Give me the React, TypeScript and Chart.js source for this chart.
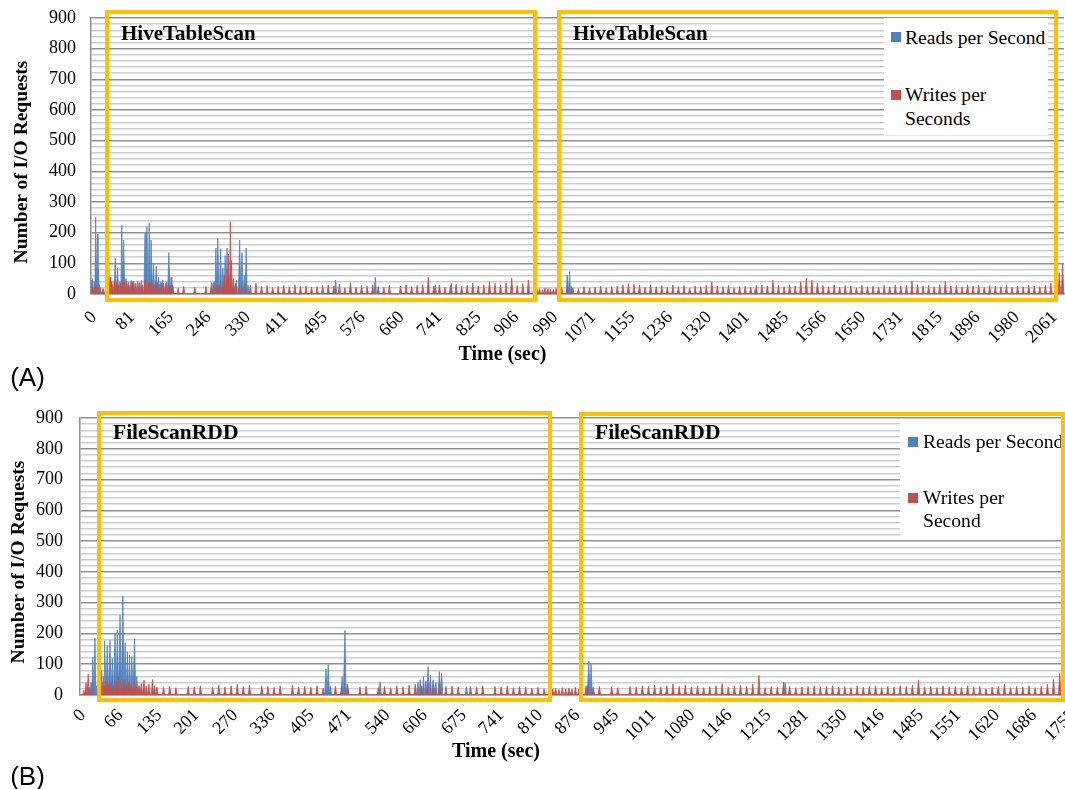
import React, { useEffect, useRef } from 'react';
import { Chart, registerables } from 'chart.js';

Chart.register(...registerables);

const SERIF = '"Liberation Serif", "Times New Roman", Times, serif';
const SANS = '"Liberation Sans", Arial, Helvetica, sans-serif';
const BLUE = '#4F81BD';
const RED = '#C0504D';
const MAJOR = '#8F8F8F';
const MINOR = '#CDCDCD';
const GOLD = '#FFC000';

// ---------- shared axis ----------
const Y_MAX = 900;
const Y_STEP = 20;

// ---------- panel A : HiveTableScan ----------
const X_TICKS_A = [0, 81, 165, 246, 330, 411, 495, 576, 660, 741, 825, 906, 990, 1071, 1155, 1236, 1320, 1401, 1485, 1566, 1650, 1731, 1815, 1896, 1980, 2061];
const X_MAX_A = 2088;

// reads per second peaks [time, value]
const READS_A: [number, number][] = [
  [1, 45], [4, 50], [7, 40], [10, 250], [14, 195], [16, 80], [19, 30],
  [52, 117], [57, 85], [62, 40], [66, 225], [70, 176], [75, 50], [80, 40], [86, 45], [92, 35], [100, 40], [108, 45],
  [116, 198], [120, 219], [125, 232], [129, 176], [134, 100], [140, 90], [145, 55], [150, 40], [154, 46], [160, 35], [167, 135], [172, 55], [175, 30],
  [264, 40], [268, 150], [272, 182], [278, 148], [283, 85], [288, 125], [292, 150], [296, 60], [300, 40], [306, 30], [312, 45], [319, 176], [324, 135], [329, 60], [333, 150], [337, 30],
  [525, 45], [610, 55], [739, 30], [773, 35], [1022, 62], [1027, 73], [1031, 25], [1425, 15],
];

// writes per second: distinct peaks [time, value]
const WRITES_A_PEAKS: [number, number][] = [
  [3, 25], [8, 20], [12, 30], [20, 15], [26, 18], [37, 265], [41, 55], [46, 30], [50, 45], [58, 30], [63, 35], [72, 38], [76, 42],
  [84, 30], [88, 40], [96, 35], [104, 38], [110, 30], [118, 40], [124, 35], [130, 45], [136, 30], [142, 38], [148, 32], [156, 35],
  [160, 28], [168, 30], [172, 25],
  [262, 35], [275, 30], [286, 60], [292, 80], [296, 130], [299, 236], [302, 110], [306, 50], [310, 35],
  [957, 15], [969, 14], [981, 18], [992, 15],
  [2078, 70], [2085, 100],
];
// writes per second: regular small spikes, one every WRITES_A_STEP seconds from WRITES_A_START
const WRITES_A_START = 8;
const WRITES_A_STEP = 11.93;
const WRITES_A_REGULAR = [
  22, 20, 18, 40, 38, 45, 35, 42, 36, 44, 38, 42, 36, 40, 28, 20, 25, 0, 22, 0,
  25, 38, 30, 35, 0, 0, 30, 35, 28, 35, 25, 28, 22, 25, 28, 24, 30, 25, 26, 22,
  24, 28, 30, 26, 32, 20, 37, 22, 28, 25, 30, 24, 22, 28, 0, 26, 30, 24, 28, 30,
  55, 26, 30, 22, 28, 32, 25, 28, 36, 26, 30, 40, 35, 30, 36, 52, 28, 34, 46, 24,
  18, 20, 16, 18, 22, 25, 20, 18, 24, 20, 22, 26, 20, 24, 26, 30, 33, 32, 28, 22,
  30, 24, 28, 22, 30, 24, 28, 20, 26, 24, 28, 40, 26, 24, 28, 20, 24, 26, 22, 28,
  30, 26, 45, 28, 24, 30, 26, 40, 52, 45, 36, 28, 24, 30, 22, 28, 26, 20, 28, 24,
  26, 22, 28, 24, 30, 26, 28, 42, 30, 26, 28, 24, 30, 42, 26, 28, 24, 30, 26, 28,
  22, 28, 26, 24, 28, 22, 26, 24, 28, 26, 24, 28, 35, 45, 0,
];

// ---------- panel B : FileScanRDD ----------
const X_TICKS_B = [0, 66, 135, 201, 270, 336, 405, 471, 540, 606, 675, 741, 810, 876, 945, 1011, 1080, 1146, 1215, 1281, 1350, 1416, 1485, 1551, 1620, 1686, 1755];
const X_MAX_B = 1762;

const READS_B: [number, number][] = [
  [19.6, 40], [22.5, 124], [26.5, 185], [29.5, 30],
  [41.3, 60], [44.3, 176], [48.3, 160], [53.2, 178], [57.2, 120], [62.1, 200], [66.1, 211], [71, 260], [76, 322], [79.9, 170], [83.9, 140], [87.8, 130], [91.8, 125], [96.7, 182], [100.7, 60], [104.6, 30],
  [436, 85], [440, 100], [444, 30], [464.7, 60], [469.7, 210], [473.6, 35],
  [532, 43], [599, 40], [603, 50], [609, 60], [613, 45], [617, 92], [621, 65], [626, 50], [631, 40], [637, 76], [641, 70], [685, 27],
  [897, 30], [902, 110], [906, 100], [910, 20], [1250, 40],
];

const WRITES_B_PEAKS: [number, number][] = [
  [6.7, 15], [10.7, 40], [14.6, 68], [17.6, 25], [34.4, 345], [37.4, 80], [39.4, 40], [43.3, 30], [46.3, 45], [50.2, 35], [55.2, 40], [59.1, 30], [64.1, 45],
  [68, 60], [73, 40], [78, 50], [81.9, 35], [86.8, 42], [90.8, 38], [95.7, 45], [99.7, 35], [104.6, 30], [108.6, 38], [113.5, 49], [117.5, 30],
  [122.5, 35], [128.4, 50], [132.3, 30], [136.3, 25],
  [838, 20], [843, 22], [849, 18], [855, 24], [861, 20], [866.5, 22], [872.3, 18], [878.2, 25], [884.2, 20],
  [1742, 76],
];
const WRITES_B_START = 6.7;
const WRITES_B_STEP = 10.88;
const WRITES_B_REGULAR = [
  0, 0, 0, 0, 0, 0, 0, 0, 0, 0, 0, 0, 0, 25, 28, 24, 0, 28, 26, 30,
  0, 25, 32, 26, 30, 35, 28, 32, 0, 30, 28, 25, 30, 0, 32, 26, 28, 25, 30, 22,
  0, 28, 24, 30, 0, 26, 28, 0, 25, 28, 24, 30, 26, 32, 35, 30, 38, 32, 36, 28,
  30, 26, 0, 28, 25, 30, 0, 28, 26, 30, 24, 28, 26, 22, 25, 20, 0, 0, 0, 0,
  0, 24, 30, 26, 28, 0, 26, 24, 0, 28, 26, 30, 28, 32, 26, 30, 36, 28, 32, 26,
  30, 24, 28, 30, 37, 26, 30, 32, 28, 35, 64, 24, 28, 26, 42, 28, 24, 26, 28, 30,
  26, 28, 30, 26, 28, 24, 30, 26, 28, 30, 24, 28, 26, 30, 28, 32, 49, 26, 28, 24,
  30, 26, 28, 24, 30, 26, 28, 20, 26, 28, 36, 24, 28, 26, 30, 24, 28, 35, 50, 70,
];

// ---------- helpers ----------
type Peak = [number, number];

function regular(start: number, step: number, values: number[]): Peak[] {
  return values.map((v, i) => [start + i * step, v] as Peak);
}

// turn peak list into a spike outline for the area chart
function spikes(peaks: Peak[], halfW: number) {
  const s = peaks.filter((p) => p[1] > 0).sort((a, b) => a[0] - b[0]);
  const pts: { x: number; y: number }[] = [];
  for (let k = 0; k < s.length; k++) {
    const [t, h] = s[k];
    const prevGap = k > 0 ? t - s[k - 1][0] : Infinity;
    const nextGap = k < s.length - 1 ? s[k + 1][0] - t : Infinity;
    const wl = Math.min(halfW, prevGap / 2);
    const wr = Math.min(halfW, nextGap / 2);
    pts.push({ x: t - wl, y: 0 }, { x: t, y: h }, { x: t + wr, y: 0 });
  }
  return pts;
}

interface Panel {
  width: number;
  height: number;
  left: number;
  padTop: number;
  xAxisHeight: number;
  xMax: number;
  xTicks: number[];
  reads: Peak[];
  writes: Peak[];
  halfW: number;
  yTickPad: number;
  xTickPad: number;
}

function makeConfig(p: Panel): any {
  return {
    type: 'line',
    data: {
      datasets: [
        {
          label: 'Writes per Second',
          data: spikes(p.writes, p.halfW),
          order: 0,
          fill: 'origin',
          backgroundColor: RED,
          borderColor: RED,
          borderWidth: 0.8,
          pointRadius: 0,
          tension: 0,
        },
        {
          label: 'Reads per Second',
          data: spikes(p.reads, p.halfW),
          order: 1,
          fill: 'origin',
          backgroundColor: BLUE,
          borderColor: BLUE,
          borderWidth: 0.8,
          pointRadius: 0,
          tension: 0,
        },
      ],
    },
    options: {
      responsive: false,
      animation: false,
      events: [],
      layout: { padding: { top: p.padTop, right: 1, left: 0, bottom: 0 } },
      plugins: { legend: { display: false }, tooltip: { enabled: false }, title: { display: false } },
      scales: {
        x: {
          type: 'linear',
          min: 0,
          max: p.xMax,
          afterBuildTicks: (s: any) => {
            s.ticks = p.xTicks.map((v) => ({ value: v }));
          },
          afterFit: (s: any) => {
            s.height = p.xAxisHeight;
            s.paddingLeft = 0;
            s.paddingRight = 0;
          },
          grid: { display: false, drawTicks: false },
          border: { display: true, color: MAJOR, width: 1.5 },
          ticks: {
            autoSkip: false,
            minRotation: 45,
            maxRotation: 45,
            padding: p.xTickPad,
            labelOffset: 3,
            color: '#000',
            font: { family: SERIF, size: 18 },
            callback: (v: any) => String(v),
          },
        },
        y: {
          type: 'linear',
          min: 0,
          max: Y_MAX,
          afterFit: (s: any) => {
            s.width = p.left;
            s.paddingTop = 0;
            s.paddingBottom = 0;
          },
          grid: {
            drawTicks: false,
            color: (c: any) => (c.tick && c.tick.value % 100 === 0 ? MAJOR : MINOR),
            lineWidth: 1.5,
          },
          border: { display: true, color: MAJOR, width: 1.5 },
          ticks: {
            stepSize: Y_STEP,
            autoSkip: false,
            padding: p.yTickPad,
            color: '#000',
            font: { family: SERIF, size: 18 },
            callback: (v: any) => (Number(v) % 100 === 0 ? String(v) : ''),
          },
        },
      },
    },
  };
}

const PANEL_A: Panel = {
  width: 1065,
  height: 395,
  left: 91,
  padTop: 18,
  xAxisHeight: 101,
  xMax: X_MAX_A,
  xTicks: X_TICKS_A,
  reads: READS_A,
  writes: [...WRITES_A_PEAKS, ...regular(WRITES_A_START, WRITES_A_STEP, WRITES_A_REGULAR)],
  halfW: 2.6,
  yTickPad: 15,
  xTickPad: 13,
};

const PANEL_B: Panel = {
  width: 1075,
  height: 389,
  left: 80,
  padTop: 18,
  xAxisHeight: 94,
  xMax: X_MAX_B,
  xTicks: X_TICKS_B,
  reads: READS_B,
  writes: [...WRITES_B_PEAKS, ...regular(WRITES_B_START, WRITES_B_STEP, WRITES_B_REGULAR)],
  halfW: 2.2,
  yTickPad: 17,
  xTickPad: 10,
};

function ChartCanvas({ panel, top }: { panel: Panel; top: number }) {
  const ref = useRef<HTMLCanvasElement>(null);
  useEffect(() => {
    if (!ref.current) return;
    const chart = new Chart(ref.current, makeConfig(panel));
    return () => chart.destroy();
  }, [panel]);
  return (
    <canvas
      ref={ref}
      width={panel.width}
      height={panel.height}
      style={{ position: 'absolute', left: 0, top, width: panel.width, height: panel.height }}
    />
  );
}

const abs = (o: React.CSSProperties): React.CSSProperties => ({ position: 'absolute', whiteSpace: 'nowrap', ...o });

function Box({ l, t, r, b }: { l: number; t: number; r: number; b: number }) {
  return (
    <div
      style={abs({
        left: l,
        top: t,
        width: r - l,
        height: b - t,
        border: `4.5px solid ${GOLD}`,
        boxSizing: 'border-box',
      })}
    />
  );
}

function Legend({ l, t, w, h, sx, tx, base1, sq1, sq2, base2, base3, line3 }: any) {
  const fs = 19.6;
  const off = 0.8375 * fs;
  return (
    <>
      <div style={abs({ left: l, top: t, width: w, height: h, background: '#fff' })} />
      <div style={abs({ left: sx, top: sq1, width: 9.5, height: 9.5, background: BLUE })} />
      <div style={abs({ left: tx, top: base1 - off, fontFamily: SERIF, fontSize: fs, lineHeight: 1, color: '#000' })}>
        Reads per Second
      </div>
      <div style={abs({ left: sx, top: sq2, width: 9.5, height: 9.5, background: RED })} />
      <div style={abs({ left: tx, top: base2 - off, fontFamily: SERIF, fontSize: fs, lineHeight: 1, color: '#000' })}>
        Writes per
      </div>
      <div style={abs({ left: tx, top: base3 - off, fontFamily: SERIF, fontSize: fs, lineHeight: 1, color: '#000' })}>
        {line3}
      </div>
    </>
  );
}

function Label({ x, y, text, size, bold, family, center, rotate }: any) {
  return (
    <div
      style={abs({
        left: x,
        top: y,
        fontFamily: family || SERIF,
        fontSize: size,
        fontWeight: bold ? 'bold' : 'normal',
        lineHeight: 1,
        color: '#000',
        transform: rotate
          ? 'translate(-50%, -50%) rotate(-90deg)'
          : center
          ? 'translate(-50%, -50%)'
          : 'translateY(-50%)',
      })}
    >
      {text}
    </div>
  );
}

export default function App() {
  useEffect(() => {
    document.body.style.margin = '0';
  }, []);
  return (
    <div
      style={{
        position: 'absolute',
        left: 0,
        top: 0,
        width: 1065,
        height: 789,
        overflow: 'hidden',
        background: '#fff',
      }}
    >
      <ChartCanvas panel={PANEL_A} top={0} />
      <ChartCanvas panel={PANEL_B} top={400} />

      {/* panel A overlays */}
      <Legend l={884} t={18} w={164} h={117} sx={891} tx={905} sq1={32} sq2={90} base1={44} base2={101.7} base3={125} line3="Seconds" />
      <Box l={105} t={10} r={537} b={302} />
      <Box l={557} t={10} r={1058} b={302} />
      <Label x={121} y={32.5} text="HiveTableScan" size={21} bold />
      <Label x={573} y={32.5} text="HiveTableScan" size={21} bold />
      <Label x={20.5} y={161.7} text="Number of I/O Requests" size={19.5} bold rotate />
      <Label x={502.5} y={353} text="Time (sec)" size={20} bold center />
      <Label x={27.5} y={377} text="(A)" size={26} family={SANS} center />

      {/* panel B overlays */}
      <Legend l={900} t={423} w={163} h={117} sx={908} tx={923} sq1={437} sq2={493} base1={448.3} base2={504} base3={527.3} line3="Second" />
      <Box l={97} t={411} r={552} b={702} />
      <Box l={579} t={412} r={1065} b={702} />
      <Label x={113} y={432.5} text="FileScanRDD" size={21.5} bold />
      <Label x={595} y={432.5} text="FileScanRDD" size={21.5} bold />
      <Label x={17.5} y={562} text="Number of I/O Requests" size={19.5} bold rotate />
      <Label x={496} y={750} text="Time (sec)" size={20} bold center />
      <Label x={27.5} y={776} text="(B)" size={26} family={SANS} center />
    </div>
  );
}
